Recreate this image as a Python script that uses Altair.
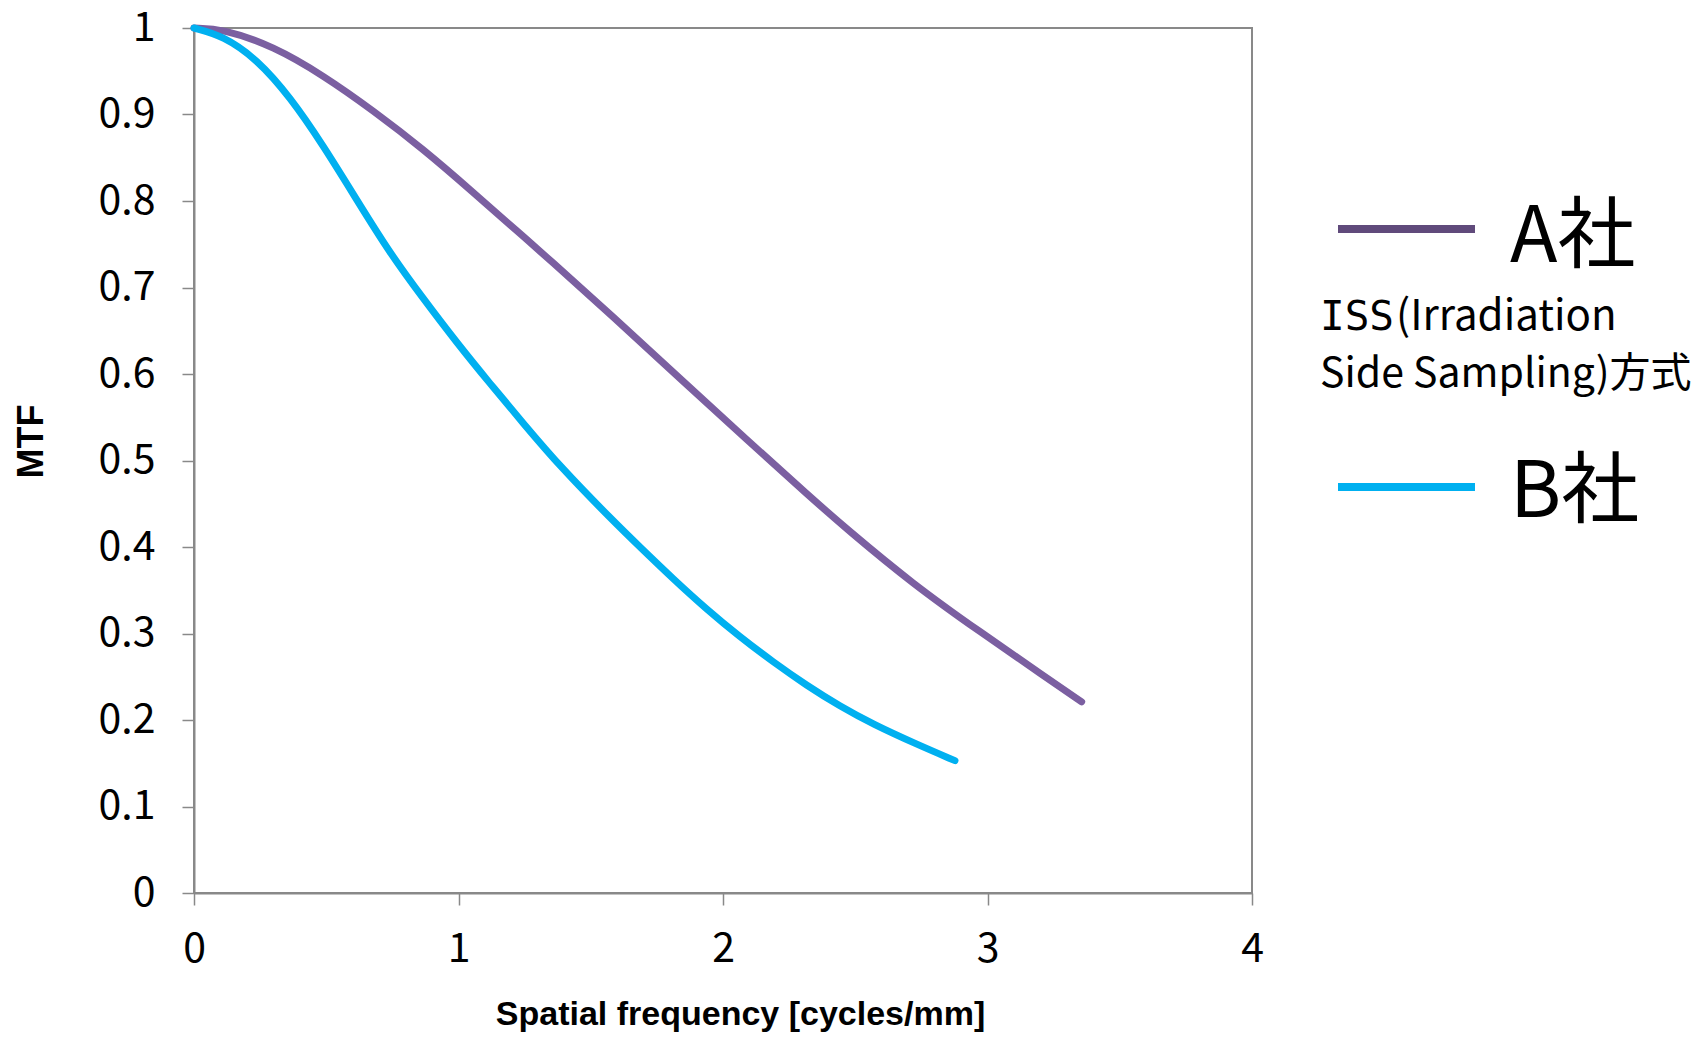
import altair as alt
import pandas as pd

# ---- data ----
freq_a = [0, 0.11, 0.30, 0.49, 0.68, 0.867, 1.056, 1.226, 1.334, 1.585, 1.837, 2.09, 2.329, 2.467, 2.719, 2.971, 3.223, 3.356]
mtf_a = [1.0, 0.999, 0.979, 0.945, 0.904, 0.860, 0.810, 0.764, 0.735, 0.666, 0.595, 0.524, 0.458, 0.421, 0.357, 0.302, 0.249, 0.221]

freq_b = [0, 0.11, 0.238, 0.364, 0.489, 0.616, 0.74, 0.867, 0.994, 1.119, 1.245, 1.384, 1.585, 1.686, 1.812, 1.938, 2.064, 2.19, 2.316, 2.442, 2.568, 2.732, 2.877]
mtf_b = [1.0, 0.991, 0.964, 0.920, 0.864, 0.801, 0.740, 0.687, 0.636, 0.589, 0.543, 0.493, 0.430, 0.400, 0.363, 0.328, 0.296, 0.267, 0.240, 0.216, 0.195, 0.172, 0.153]

series_names = ["A社", "B社"]
series_colors = ["#7B5FA1", "#00B0F0"]
legend_line_colors = ["#604A7B", "#00B0F0"]
note_line1_parts = ["ISS", "(Irradiation"]
note_line2 = "Side Sampling)方式"
x_ticks = [0, 1, 2, 3, 4]
y_ticks = [0, 0.1, 0.2, 0.3, 0.4, 0.5, 0.6, 0.7, 0.8, 0.9, 1]
x_title = "Spatial frequency [cycles/mm]"
y_title = "MTF"

df = pd.concat([
    pd.DataFrame({"freq": freq_a, "mtf": mtf_a, "series": series_names[0]}),
    pd.DataFrame({"freq": freq_b, "mtf": mtf_b, "series": series_names[1]}),
], ignore_index=True)

FONT = "Noto Sans CJK JP"
TITLE_FONT = "Liberation Sans"
AXIS_GRAY = "#898989"

lines = alt.Chart(df).mark_line(
    strokeWidth=7, strokeCap="round", strokeJoin="round", interpolate="basis"
).encode(
    x=alt.X("freq:Q",
            scale=alt.Scale(domain=[0, 4], nice=False),
            axis=alt.Axis(values=x_ticks, title=x_title, format="d",
                          labelBaseline="middle", labelPadding=44,
                          labelFlush=False, labelOverlap=False,
                          titleFontSize=34,
                          titleX=546, titleY=121, titleAlign="center",
                          titleBaseline="middle")),
    y=alt.Y("mtf:Q",
            scale=alt.Scale(domain=[0, 1], nice=False),
            axis=alt.Axis(values=y_ticks, title=y_title, format="~g",
                          labelBaseline="middle", labelPadding=27,
                          labelFlush=False, labelOverlap=False,
                          titleFontSize=36,
                          titleAngle=270, titleX=-163, titleY=413,
                          titleAlign="center", titleBaseline="middle")),
    color=alt.Color("series:N",
                    scale=alt.Scale(domain=series_names, range=series_colors),
                    legend=None),
)

def one(col, val):
    return pd.DataFrame({col: [val]})

rule_a = alt.Chart(one("s", series_names[0])).mark_rule(
    strokeWidth=8, color=legend_line_colors[0]
).encode(x=alt.value(1144), x2=alt.value(1281), y=alt.value(201))
rule_b = alt.Chart(one("s", series_names[1])).mark_rule(
    strokeWidth=8, color=legend_line_colors[1]
).encode(x=alt.value(1144), x2=alt.value(1281), y=alt.value(459))

text_a = alt.Chart(one("label", series_names[0])).mark_text(
    align="left", baseline="alphabetic", font=FONT, fontSize=78, color="black"
).encode(x=alt.value(1316), y=alt.value(234), text="label:N")
text_b = alt.Chart(one("label", series_names[1])).mark_text(
    align="left", baseline="alphabetic", font=FONT, fontSize=78, color="black"
).encode(x=alt.value(1316), y=alt.value(489), text="label:N")

note1a = alt.Chart(one("label", note_line1_parts[0])).mark_text(
    align="left", baseline="alphabetic", font="DejaVu Sans Mono", fontSize=41, color="black"
).encode(x=alt.value(1126), y=alt.value(302), text="label:N")
note1b = alt.Chart(one("label", note_line1_parts[1])).mark_text(
    align="left", baseline="alphabetic", font=FONT, fontSize=42, color="black"
).encode(x=alt.value(1202), y=alt.value(302), text="label:N")
note2 = alt.Chart(one("label", note_line2)).mark_text(
    align="left", baseline="alphabetic", font=FONT, fontSize=41, color="black"
).encode(x=alt.value(1126), y=alt.value(359), text="label:N")

chart = alt.layer(lines, rule_a, rule_b, text_a, text_b, note1a, note1b, note2).properties(
    width=1058, height=865,
    autosize=alt.AutoSizeParams(type="none"),
    padding={"left": 186, "top": 20, "right": 447, "bottom": 140},
    background="white",
).configure_axis(
    grid=False,
    domainColor=AXIS_GRAY, domainWidth=2,
    tickColor=AXIS_GRAY, tickWidth=1.5, tickSize=12,
    labelFont=FONT, labelFontSize=41, labelColor="black",
    titleFont=TITLE_FONT, titleFontWeight="bold", titleColor="black",
).configure_view(stroke=AXIS_GRAY, strokeWidth=2)

chart.save("out.html", embed_options={"renderer": "svg", "actions": False})
